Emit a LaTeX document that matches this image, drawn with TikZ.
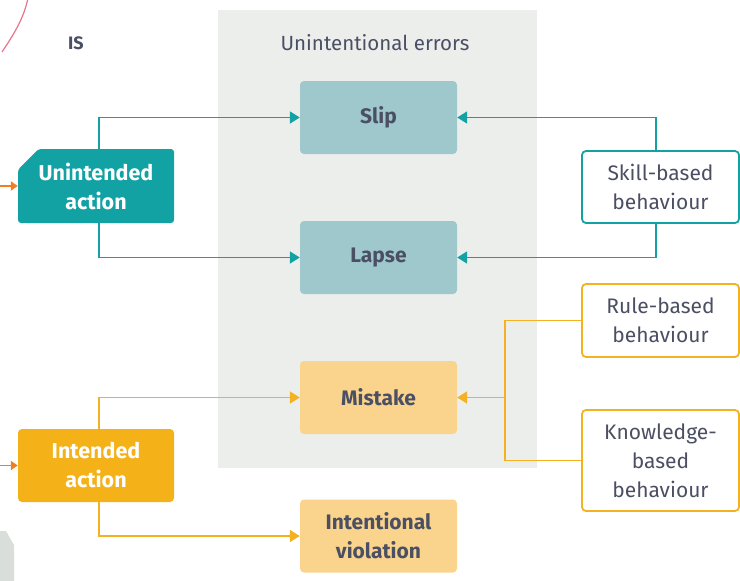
\documentclass[tikz,border=0pt]{standalone}
\usepackage{fontspec}
\setmainfont{Fira Sans}
\usetikzlibrary{arrows.meta,shapes.misc}

\definecolor{panelgrey}{HTML}{ECEEEC}
\definecolor{tealdark}{HTML}{12A2A4}
\definecolor{teallight}{HTML}{9FC8CD}
\definecolor{ambdark}{HTML}{F4B118}
\definecolor{amblight}{HTML}{FAD48C}
\definecolor{ambline}{HTML}{F4B223}
\definecolor{inkgrey}{HTML}{4B4F63}
\definecolor{arrowor}{HTML}{F07E22}
\definecolor{pinkarc}{HTML}{E9738C}
\definecolor{cornergrey}{HTML}{D9DEDB}

\tikzset{
  x=1pt, y=-1pt,
  box/.style={minimum width=157pt, minimum height=73pt, inner sep=0pt,
    align=center, rounded corners=4pt, font=\fontsize{21}{29}\selectfont},
  errbox/.style={box, font=\fontsize{21}{29}\selectfont\bfseries, text=inkgrey},
  srcbox/.style={box, fill=white, line width=1.8pt, text=inkgrey},
  actbox/.style={box, font=\fontsize{21.5}{29}\selectfont\bfseries, text=white},
  tline/.style={draw=tealdark, line width=1.8pt, -{Triangle[length=10pt,width=12pt]}},
  aline/.style={draw=ambline, line width=1.8pt, -{Triangle[length=10pt,width=12pt]}},
  aplain/.style={draw=ambline, line width=1.8pt},
  feed/.style={draw=arrowor, line width=1.8pt, -{Triangle[length=7pt,width=9pt]}},
}

\begin{document}
\begin{tikzpicture}
\useasboundingbox (0,0) rectangle (740,581);

% backdrop pieces
\draw[pinkarc, line width=1.2pt] (2,52) .. controls (14,34) and (24,18) .. (28,-2);
\fill[cornergrey] (0,531) -- (6,531) -- (14,545) -- (14,581) -- (0,581) -- cycle;
\node[font=\fontsize{18}{20}\selectfont\bfseries, text=inkgrey] (tag) at (76,43) {IS};

% panel of unintentional errors
\fill[panelgrey] (218,10) rectangle (537,468);
\node[font=\fontsize{20.5}{24}\selectfont, text=inkgrey] (paneltitle) at (375,43) {Unintentional errors};

% error types
\node[errbox, fill=teallight] (slip)   at (378.5,117.5) {Slip};
\node[errbox, fill=teallight] (lapse)  at (378.5,257.5) {Lapse};
\node[errbox, fill=amblight]  (mist)   at (378.5,397.5) {Mistake};
\node[errbox, fill=amblight]  (viol)   at (378.5,536)   {Intentional\\violation};

% actions
\node[actbox, fill=tealdark, rounded corners=3pt, chamfered rectangle,
      chamfered rectangle corners=north west, chamfered rectangle xsep=17pt,
      minimum width=156pt, minimum height=74pt] (ua) at (96,186) {Unintended\\action};
\node[actbox, fill=ambdark, minimum width=156pt] (ia) at (96,465.5) {Intended\\action};

% behaviour levels
\node[srcbox, draw=tealdark, minimum height=72pt] (skill) at (660.5,187)   {Skill-based\\behaviour};
\node[srcbox, draw=ambline]                         (rule)  at (660.5,320.5) {Rule-based\\behaviour};
\node[srcbox, draw=ambline, minimum height=101pt]  (know)  at (660.5,460.5) {Knowledge-\\based\\behaviour};

% incoming arrows on the left edge
\coordinate (uain) at (0,186);
\coordinate (iain) at (0,465.5);
\draw[feed] (uain) -- (ua.west);
\draw[feed] (iain) -- (ia.west);

% unintended action to slip and lapse
\draw[tline] ([xshift=3pt]ua.north) |- (slip.west);
\draw[tline] ([xshift=3pt]ua.south) |- (lapse.west);
\draw[tline] ([xshift=-4.5pt]skill.north) |- (slip.east);
\draw[tline] ([xshift=-4.5pt]skill.south) |- (lapse.east);

% intended action to mistake and violation
\draw[aline] ([xshift=3pt]ia.north) |- (mist.west);
\draw[aline] ([xshift=3pt]ia.south) |- (viol.west);

% rule- and knowledge-based behaviour join into mistake
\coordinate (join) at (505,397.5);
\draw[aplain] (rule.west) -| (join) |- (know.west);
\draw[aline] (join) -- (mist.east);
\end{tikzpicture}
\end{document}
